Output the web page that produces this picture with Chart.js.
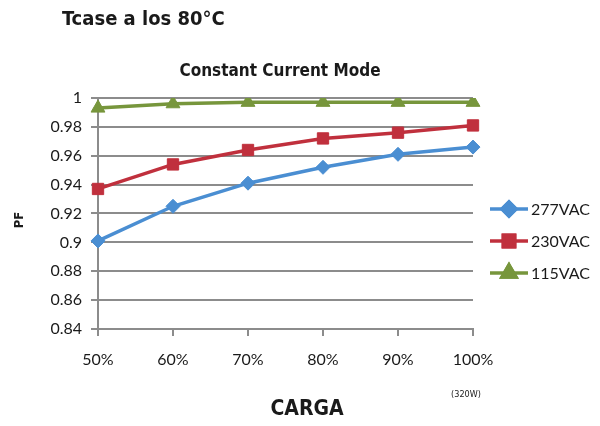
<!DOCTYPE html>
<html>
<head>
<meta charset="utf-8">
<script src="https://cdn.jsdelivr.net/npm/chart.js@4.4.1/dist/chart.umd.min.js"></script>
<style>
  html, body { margin: 0; padding: 0; background: #fff; }
  #wrap { width: 600px; height: 426px; position: relative; }
</style>
</head>
<body>
<div id="wrap"><canvas id="pfChart"></canvas></div>
<script>
const categories = ["50%", "60%", "70%", "80%", "90%", "100%"];
const vac277 = [0.901, 0.925, 0.941, 0.952, 0.961, 0.966];
const vac230 = [0.937, 0.954, 0.964, 0.972, 0.976, 0.981];
const vac115 = [0.993, 0.996, 0.997, 0.997, 0.997, 0.997];
const seriesNames = ["277VAC", "230VAC", "115VAC"];
const yTicks = [0.84, 0.86, 0.88, 0.9, 0.92, 0.94, 0.96, 0.98, 1];

const narrow = "'Liberation Sans Narrow', 'DejaVu Sans Condensed', Arial, sans-serif";
const body = "Lato, 'Open Sans', Arial, sans-serif";

// titles, axis names and the line+marker legend
const extras = {
  id: "extras",
  afterDraw(chart) {
    const ctx = chart.ctx;
    const area = chart.chartArea;
    ctx.save();
    ctx.fillStyle = "#1a1a1a";
    ctx.textBaseline = "middle";

    ctx.font = "bold 20px " + narrow;
    ctx.textAlign = "left";
    ctx.fillText("Tcase a los 80°C", 62, 20);

    ctx.font = "bold 17px " + narrow;
    ctx.textAlign = "center";
    ctx.fillText("Constant Current Mode", 280, 72);

    ctx.font = "bold 21px " + narrow;
    ctx.fillText("CARGA", 307, 410);

    ctx.font = "9px " + narrow;
    ctx.fillText("(320W)", 466, 395);

    ctx.save();
    ctx.translate(20, 220);
    ctx.rotate(-Math.PI / 2);
    ctx.font = "bold 13px " + narrow;
    ctx.fillText("PF", 0, 0);
    ctx.restore();

    // legend
    const ys = [209, 241, 273];
    chart.data.datasets.forEach((ds, i) => {
      const y = ys[i];
      ctx.strokeStyle = ds.borderColor;
      ctx.lineWidth = 3.5;
      ctx.beginPath();
      ctx.moveTo(490, y);
      ctx.lineTo(528, y);
      ctx.stroke();
      Chart.helpers.drawPoint(ctx, {
        pointStyle: ds.pointStyle,
        radius: ds.pointRadius,
        borderWidth: 1,
        rotation: 0
      }, 509, y);
      ctx.fillStyle = ds.backgroundColor;
      ctx.strokeStyle = ds.backgroundColor;
      Chart.helpers.drawPoint(ctx, {
        pointStyle: ds.pointStyle,
        radius: ds.pointRadius,
        borderWidth: 1,
        rotation: 0
      }, 509, y);
      ctx.fillStyle = "#1a1a1a";
      ctx.font = "16px " + body;
      ctx.textAlign = "left";
      ctx.fillText(ds.label, 531, y + 1);
    });
    ctx.restore();
  }
};

const pfChart = new Chart(document.getElementById("pfChart"), {
  type: "line",
  data: {
    labels: categories,
    datasets: [
      {
        label: seriesNames[0],
        data: vac277,
        borderColor: "#4a8ed2",
        backgroundColor: "#4a8ed2",
        borderWidth: 3.5,
        pointStyle: "rectRot",
        pointRadius: 7,
        pointBorderWidth: 1,
      },
      {
        label: seriesNames[1],
        data: vac230,
        borderColor: "#c0303d",
        backgroundColor: "#c0303d",
        borderWidth: 3.5,
        pointStyle: "rect",
        pointRadius: 8,
        pointBorderWidth: 1,
      },
      {
        label: seriesNames[2],
        data: vac115,
        borderColor: "#77963c",
        backgroundColor: "#77963c",
        borderWidth: 3.5,
        pointStyle: "triangle",
        pointRadius: 8,
        pointBorderWidth: 1,
      },
    ],
  },
  options: {
    responsive: true,
    maintainAspectRatio: false,
    animation: false,
    layout: { padding: { top: 98, right: 127, bottom: 0, left: 0 } },
    plugins: {
      legend: { display: false },
      tooltip: { enabled: false },
    },
    scales: {
      x: {
        offset: false,
        grid: {
          drawOnChartArea: false,
          drawTicks: true,
          tickLength: 7,
          color: "#8c8c8c",
          lineWidth: 2,
        },
        border: { color: "#8c8c8c", width: 2 },
        ticks: {
          color: "#1a1a1a",
          padding: 14,
          maxRotation: 0,
          font: { family: body, size: 16 },
        },
        afterFit(scale) { scale.height = 97; },
      },
      y: {
        min: 0.84,
        max: 1,
        afterBuildTicks(scale) {
          scale.ticks = yTicks.map(v => ({ value: v }));
        },
        grid: {
          color: "#8c8c8c",
          lineWidth: 2,
          tickLength: 7,
        },
        border: { color: "#8c8c8c", width: 2 },
        ticks: {
          color: "#1a1a1a",
          padding: 9,
          font: { family: body, size: 16 },
          callback: v => String(Math.round(v * 100) / 100),
        },
        afterFit(scale) { scale.width = 98; },
      },
    },
  },
  plugins: [extras],
});
</script>
</body>
</html>
